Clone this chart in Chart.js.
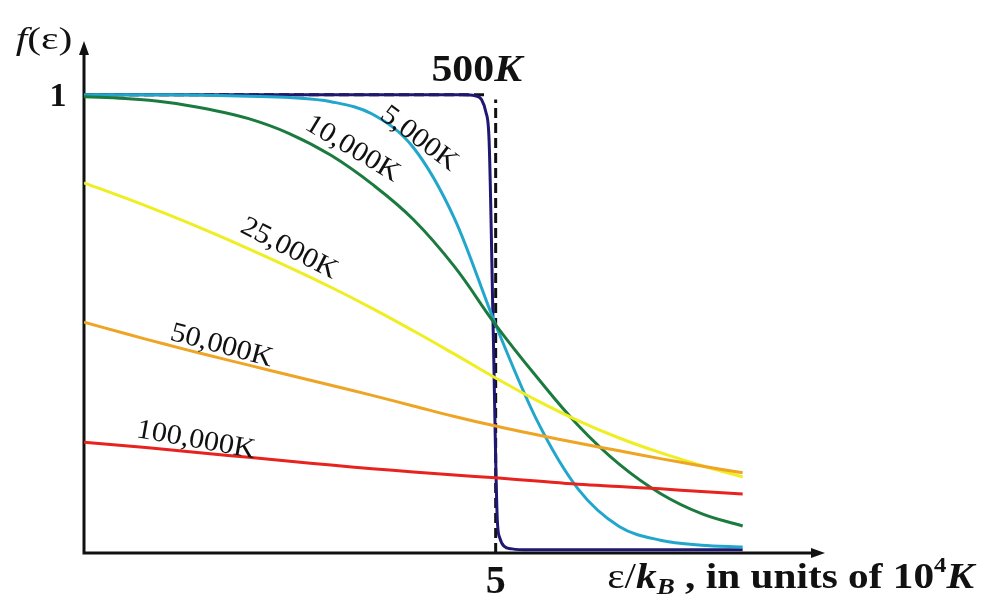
<!DOCTYPE html>
<html>
<head>
<meta charset="utf-8">
<script src="https://cdn.jsdelivr.net/npm/chart.js@4.4.1/dist/chart.umd.min.js"></script>
<style>
  html, body { margin: 0; padding: 0; background: #fff; }
  #wrap { width: 984px; height: 601px; position: relative; }
</style>
</head>
<body>
<div id="wrap"><canvas id="fermiChart"></canvas></div>
<script>
// energy grid, in units of 10^4 K
const energy = [0, 0.5, 1, 1.5, 2, 2.5, 3, 3.5, 4, 4.5, 5, 5.5, 6, 6.5, 7, 7.5, 8];

// occupancy for each temperature
const f5000 = [1.0, 1.0, 1.0, 0.999, 0.997, 0.994, 0.985, 0.958, 0.885, 0.730, 0.498, 0.290, 0.140, 0.058, 0.028, 0.017, 0.013];
const f10000 = [0.996, 0.992, 0.984, 0.969, 0.948, 0.915, 0.868, 0.805, 0.728, 0.625, 0.498, 0.384, 0.279, 0.194, 0.130, 0.086, 0.059];
const f25000 = [0.808, 0.775, 0.740, 0.703, 0.664, 0.623, 0.580, 0.534, 0.485, 0.434, 0.382, 0.333, 0.289, 0.251, 0.219, 0.191, 0.166];
const f50000 = [0.504, 0.479, 0.455, 0.432, 0.410, 0.388, 0.366, 0.344, 0.321, 0.298, 0.277, 0.258, 0.240, 0.223, 0.206, 0.190, 0.175];
const f100000 = [0.242, 0.234, 0.226, 0.217, 0.209, 0.200, 0.192, 0.184, 0.177, 0.170, 0.164, 0.157, 0.150, 0.145, 0.140, 0.134, 0.129];

// the 500 K curve is nearly a step, so it has its own grid
const energy500 = [0, 4.6, 4.75, 4.83, 4.88, 4.92, 4.97, 5.02, 5.05, 5.1, 5.2, 5.4, 8];
const f500 = [1.0, 1.0, 0.998, 0.989, 0.963, 0.901, 0.487, 0.072, 0.033, 0.015, 0.009, 0.007, 0.007];

// T = 0 step drawn dashed
const stepTopX = [0, 4.88];
const stepTopY = [1, 1];
const stepEdgeX = [5, 5];
const stepEdgeY = [0, 0.99];

const curveLabels = ["5,000K", "10,000K", "25,000K", "50,000K", "100,000K"];
const labelX = [4.07, 3.26, 2.49, 1.67, 1.36];
const labelY = [0.904, 0.882, 0.664, 0.452, 0.246];
const labelAngle = [37, 31, 27, 15, 10];

const C = {
  navy: "#1e1872",
  cyan: "#22a6cc",
  green: "#1b7b3e",
  yellow: "#eeee22",
  orange: "#eea424",
  red: "#e8221e",
  ink: "#111",
};

const SERIF = "'Liberation Serif', 'DejaVu Serif', serif";

const zip = (xs, ys) => xs.map((x, i) => ({ x, y: ys[i] }));

function curve(data, color, monotone) {
  return {
    data,
    borderColor: color,
    borderWidth: 3,
    pointRadius: 0,
    fill: false,
    cubicInterpolationMode: monotone ? "monotone" : "default",
    tension: monotone ? 0 : 0.4,
  };
}

function dashed(data) {
  return {
    data,
    borderColor: C.ink,
    borderWidth: 3,
    borderDash: [10, 5],
    pointRadius: 0,
    fill: false,
    tension: 0,
  };
}

// axes with arrow heads, drawn under the curves
const arrowAxes = {
  id: "arrowAxes",
  beforeDatasetsDraw(chart) {
    const { ctx, chartArea: a } = chart;
    ctx.save();
    ctx.strokeStyle = C.ink;
    ctx.fillStyle = C.ink;
    ctx.lineWidth = 3;
    ctx.beginPath();
    ctx.moveTo(a.left, a.top - 2);
    ctx.lineTo(a.left, a.bottom);
    ctx.lineTo(a.right - 8, a.bottom);
    ctx.stroke();
    // y arrow
    ctx.beginPath();
    ctx.moveTo(a.left, a.top - 8);
    ctx.lineTo(a.left - 5, a.top + 6);
    ctx.lineTo(a.left + 5, a.top + 6);
    ctx.closePath();
    ctx.fill();
    // x arrow
    ctx.beginPath();
    ctx.moveTo(a.right, a.bottom);
    ctx.lineTo(a.right - 14, a.bottom - 5);
    ctx.lineTo(a.right - 14, a.bottom + 5);
    ctx.closePath();
    ctx.fill();
    ctx.restore();
  },
};

// text runs with a slight horizontal stretch, like the scanned figure
function drawRuns(ctx, runs, x, y, align, stretch = 1) {
  let total = 0;
  runs.forEach((r) => { ctx.font = r.font; total += ctx.measureText(r.t).width; });
  total *= stretch;
  const x0 = align === "right" ? x - total : align === "center" ? x - total / 2 : x;
  ctx.save();
  ctx.translate(x0, y);
  ctx.scale(stretch, 1);
  ctx.textAlign = "left";
  let cx = 0;
  runs.forEach((r) => {
    ctx.font = r.font;
    ctx.fillText(r.t, cx, r.dy || 0);
    cx += ctx.measureText(r.t).width;
  });
  ctx.restore();
}

// all the text on the figure
const annotations = {
  id: "annotations",
  afterDatasetsDraw(chart) {
    const { ctx, chartArea: a, scales } = chart;
    const xs = scales.x, ys = scales.y;
    ctx.save();
    ctx.fillStyle = C.ink;
    ctx.textBaseline = "middle";

    // curve labels
    curveLabels.forEach((t, i) => {
      ctx.save();
      ctx.translate(xs.getPixelForValue(labelX[i]), ys.getPixelForValue(labelY[i]));
      ctx.rotate((labelAngle[i] * Math.PI) / 180);
      ctx.scale(1.08, 1);
      ctx.font = `28px ${SERIF}`;
      ctx.textAlign = "center";
      ctx.fillText(t, 0, 0);
      ctx.restore();
    });

    // 500K
    drawRuns(ctx, [
      { t: "500", font: `bold 37px ${SERIF}` },
      { t: "K", font: `italic bold 37px ${SERIF}` },
    ], xs.getPixelForValue(4.77), ys.getPixelForValue(1.05), "center", 1.13);

    // tick labels
    ctx.textAlign = "center";
    ctx.font = `bold 34px ${SERIF}`;
    ctx.fillText("1", a.left - 26, ys.getPixelForValue(1) + 2);
    ctx.font = `bold 40px ${SERIF}`;
    ctx.fillText("5", xs.getPixelForValue(5), a.bottom + 30);

    // y title
    drawRuns(ctx, [
      { t: "f", font: `italic 32px ${SERIF}` },
      { t: "(\u03b5)", font: `32px ${SERIF}` },
    ], 44, 41, "center", 1.3);

    // x title
    drawRuns(ctx, [
      { t: "\u03b5/", font: `35px ${SERIF}` },
      { t: "k", font: `italic bold 35px ${SERIF}` },
      { t: "B", font: `italic bold 23px ${SERIF}`, dy: 9 },
      { t: " , in units of 10", font: `bold 35px ${SERIF}` },
      { t: "4", font: `bold 21px ${SERIF}`, dy: -12 },
      { t: "K", font: `italic bold 35px ${SERIF}` },
    ], 974, a.bottom + 26, "right", 1.18);

    ctx.restore();
  },
};

new Chart(document.getElementById("fermiChart"), {
  type: "line",
  data: {
    datasets: [
      curve(zip(energy, f100000), C.red),
      curve(zip(energy, f50000), C.orange),
      curve(zip(energy, f25000), C.yellow),
      curve(zip(energy, f10000), C.green),
      curve(zip(energy, f5000), C.cyan, true),
      curve(zip(energy500, f500), C.navy, true),
      dashed(zip(stepTopX, stepTopY)),
      dashed(zip(stepEdgeX, stepEdgeY)),
    ],
  },
  options: {
    responsive: true,
    maintainAspectRatio: false,
    animation: false,
    events: [],
    layout: { padding: { left: 84, right: 159, top: 49, bottom: 48 } },
    plugins: { legend: { display: false }, tooltip: { enabled: false } },
    elements: { line: { borderCapStyle: "butt" } },
    scales: {
      x: { type: "linear", min: 0, max: 9, display: false },
      y: { type: "linear", min: 0, max: 1.1, display: false },
    },
  },
  plugins: [arrowAxes, annotations],
});
</script>
</body>
</html>
